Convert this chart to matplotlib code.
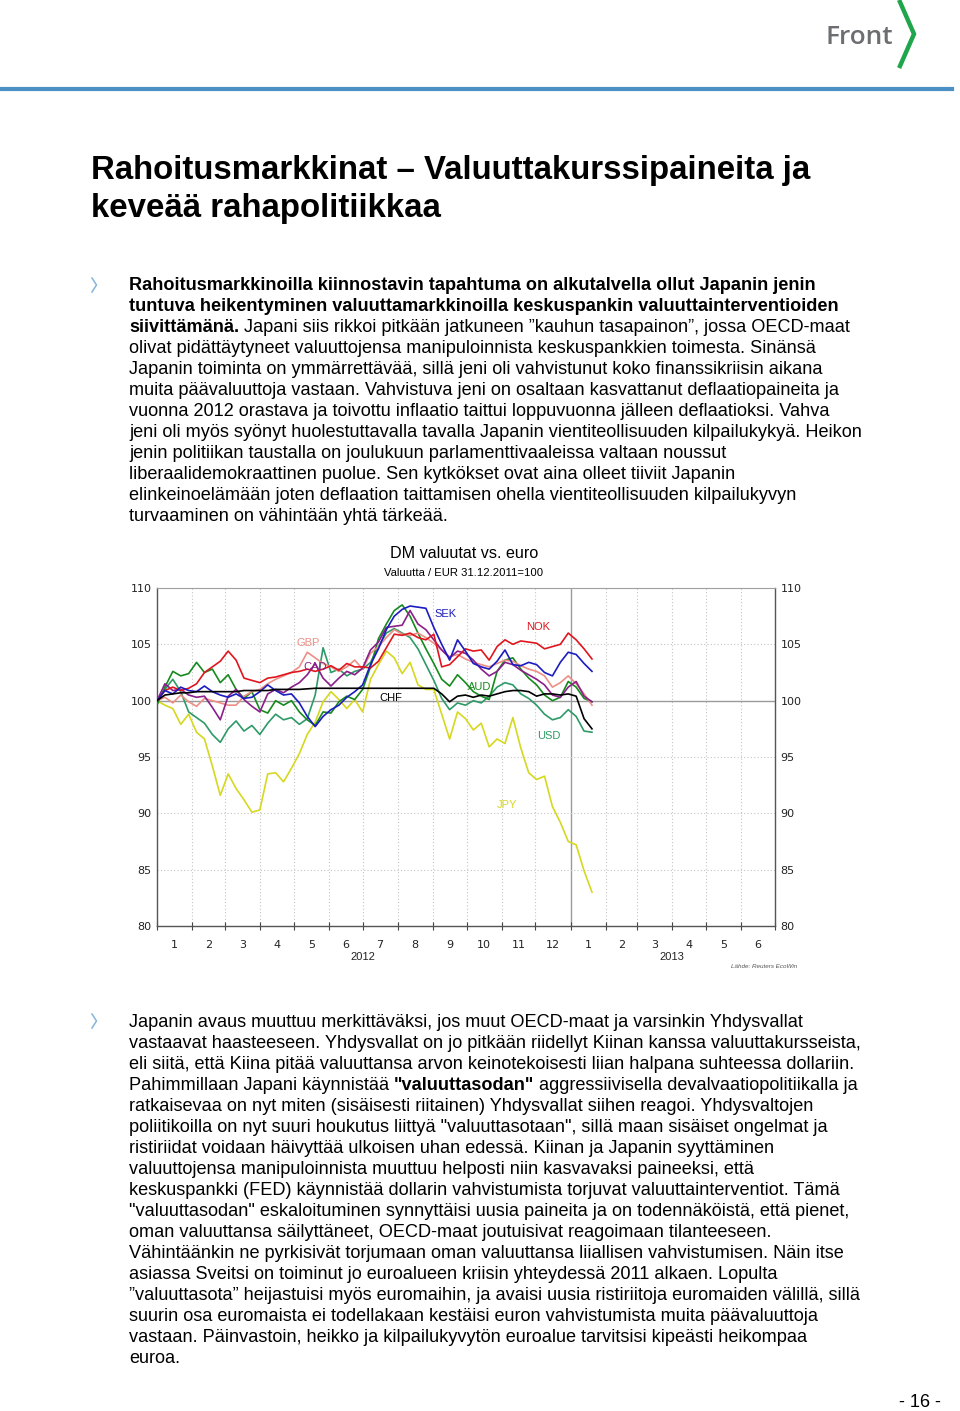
import matplotlib
matplotlib.use("Agg")
import matplotlib.pyplot as plt
import matplotlib.dates as mdates
from matplotlib.lines import Line2D
import pandas as pd

# ---------------- data ----------------
start_date = "2012-01-01"
n_points = 56          # weekly observations
currencies = ["GBP", "CAD", "SEK", "NOK", "CHF", "AUD", "USD", "JPY"]

gbp = [100.0, 100.3, 99.8, 100.5, 99.9, 99.5, 100.2, 100.0, 99.8, 99.6,
       99.6, 100.4, 100.8, 101.0, 101.5, 101.9, 102.2, 102.5, 103.0, 104.3,
       103.8, 103.3, 103.0, 102.6, 103.0, 103.6, 102.8, 104.2, 104.8, 105.6,
       106.3, 105.9, 105.8, 106.0, 105.6, 105.1, 104.5, 103.9, 104.1,
       103.7, 103.4, 103.2, 103.0, 103.3, 103.6, 103.5, 103.1, 102.8, 102.6,
       102.2, 101.2, 101.6, 102.2, 101.5, 100.6, 99.6]
cad = [100.0, 101.5, 100.9, 101.0, 100.5, 100.3, 100.4, 99.4, 98.3, 100.4,
       101.0, 100.1, 99.5, 99.0, 100.6, 101.0, 100.7, 101.2, 101.6, 102.3,
       103.3, 102.0, 101.3, 102.0, 102.6, 102.3, 102.9, 104.5, 105.2, 106.5,
       106.6, 106.7, 108.0, 106.8, 106.3, 105.4, 104.5, 103.8, 104.4,
       104.2, 103.6, 102.8, 102.2, 102.6, 103.4, 103.2, 102.7, 102.3, 101.9,
       101.4, 100.5, 100.3, 101.2, 101.7, 100.4, 99.9]
sek = [100.0, 100.9, 100.6, 101.2, 100.9, 100.8, 101.3, 100.8, 100.5, 100.3,
       100.6, 100.2, 100.3, 100.8, 101.4, 100.9, 100.5, 100.6, 99.8, 98.6,
       97.7, 98.6, 99.2, 99.6, 100.3, 100.8,
       101.4, 103.2, 104.6, 106.3, 107.5, 108.1, 108.4, 108.3, 108.2, 106.5,
       105.0, 103.6, 105.4, 104.4, 103.3,
       103.0, 102.8, 103.5, 104.5, 103.2, 103.1, 103.4, 103.2, 102.5, 102.2,
       103.4, 104.3, 104.1, 103.3, 102.6]
nok = [100.0, 100.9, 101.2, 100.9, 101.1, 101.5, 102.5, 103.0, 103.5, 104.4,
       103.6, 102.0, 101.8, 101.6, 102.0, 102.1, 102.3, 102.5, 102.6, 102.8,
       102.6, 102.8, 103.1, 102.7, 103.3, 103.0,
       103.0, 102.9, 103.5, 104.7, 105.9, 105.8, 106.0, 105.6, 105.4, 105.9,
       103.0, 103.2, 103.9, 104.6, 104.4,
       104.5, 103.6, 104.8, 105.4, 105.0, 105.3, 105.2, 105.1, 104.6, 104.8,
       105.0, 106.0, 105.4, 104.6, 103.7]
chf = [100.0, 100.5, 100.6, 100.7, 100.7, 100.8, 100.8, 100.8, 100.8, 100.8,
       100.8, 100.9, 100.9, 100.9, 100.9, 101.0, 101.0, 101.0, 101.0, 101.05,
       101.1, 101.1, 101.1, 101.1, 101.1, 101.1, 101.1, 101.1, 101.1, 101.1,
       101.1, 101.1, 101.1, 101.1, 101.1, 101.1, 100.6, 99.9, 100.4, 100.5,
       100.3, 100.5, 100.4, 100.6, 100.8, 100.9, 100.9, 100.8, 100.4, 100.6,
       100.6, 100.5, 100.6, 100.4, 98.4, 97.5]
aud = [99.6, 101.2, 102.6, 102.2, 102.4, 103.4, 102.5, 102.8, 101.6, 102.3,
       101.0, 100.2, 100.8, 99.2, 98.9, 100.0, 99.6, 100.0, 99.0, 98.3,
       97.8, 99.0, 98.9, 99.9, 100.4, 100.1,
       101.0, 103.0, 105.5, 106.8, 108.0, 108.5, 107.5, 106.0, 104.6, 103.3,
       101.9, 101.3, 102.3, 101.6, 100.8,
       100.4, 100.1, 102.6, 103.6, 103.8, 102.8, 102.0, 101.4, 100.5, 100.0,
       100.3, 101.7, 101.2, 100.2, 99.9]
usd = [100.0, 101.0, 101.9, 100.8, 99.0, 98.5, 98.0, 97.0, 96.3, 97.5,
       98.2, 97.3, 97.8, 97.0, 98.0, 98.8, 98.3, 98.5, 97.9, 98.4,
       100.5, 104.7, 102.5, 102.8, 102.2, 102.6,
       102.8, 103.4, 104.8, 106.0, 106.4, 106.0, 105.6, 104.6, 103.2, 101.8,
       100.2, 99.2, 99.8, 99.6, 100.0,
       99.8, 100.4, 101.2, 101.6, 101.4, 100.6, 100.2, 99.6, 98.8, 98.3,
       98.5, 99.2, 98.6, 97.3, 97.2]
jpy = [100.0, 99.6, 99.3, 97.9, 98.8, 97.2, 96.6, 94.2, 91.6, 93.5,
       92.2, 91.2, 90.1, 90.3, 93.5, 93.6, 92.8, 94.0, 95.3, 97.0,
       98.1, 99.9, 100.8, 100.1, 99.3, 100.1, 99.0, 101.9, 103.2, 104.4,
       103.8, 102.4, 103.4, 101.4, 101.0, 101.0, 98.8, 96.6, 99.0, 98.4,
       97.4, 98.0, 95.9, 96.6, 96.2, 98.5, 95.8, 93.6, 93.0, 93.3,
       90.6, 89.2, 87.5, 87.2, 84.9, 83.0]

label_dates = ["2012-05-14", "2012-05-20", "2012-09-12", "2012-12-03",
               "2012-07-26", "2012-10-13", "2012-12-13", "2012-11-06"]
label_values = [105.1, 102.95, 107.65, 106.5, 100.27, 101.25, 96.9, 90.75]

month_labels = ["1", "2", "3", "4", "5", "6", "7", "8", "9", "10", "11", "12",
                "1", "2", "3", "4", "5", "6"]
year_labels = ["2012", "2013"]
year_centers = ["2012-07-01", "2013-04-01"]
yticks = [80, 85, 90, 95, 100, 105, 110]

series = [gbp, cad, sek, nok, chf, aud, usd, jpy]
colors = ["#ec8f86", "#8a1f8a", "#1c1cc0", "#e0161e", "#000000",
          "#168a1e", "#2e9a68", "#d6d820"]
draw_order = [7, 6, 5, 0, 1, 3, 2, 4]

# ---------------- page ----------------
W, H = 960, 1411
fig = plt.figure(figsize=(W / 100, H / 100), dpi=100)
fig.patch.set_facecolor("white")
R = fig.canvas.get_renderer()
BODY = "Liberation Sans"


def X(px):
    return px / W


def Y(py):
    return 1 - py / H


def tw(s, size, weight="normal", family=BODY, style="normal"):
    t = fig.text(0, 0, s, fontsize=size, fontweight=weight, family=family,
                 style=style)
    w = t.get_window_extent(R).width
    t.remove()
    return w


def fit(s, target, weight="normal", family=BODY):
    return 12.0 * target / tw(s, 12.0, weight, family)


def runs_line(x, yc, runs, size, color="#000000"):
    for txt, wt in runs:
        fig.text(X(x), Y(yc + 6), txt, fontsize=size, fontweight=wt,
                 family=BODY, color=color, va="baseline", ha="left")
        x += tw(txt + "|", size, wt) - tw("|", size, wt)


# header logo
fs_logo = fit("Front", 68, "semibold", "Open Sans")
fig.text(X(893), Y(37), "Front", fontsize=fs_logo, fontweight="semibold",
         family="Open Sans", color="#6d6e71", ha="right", va="center")
fig.add_artist(Line2D([X(900), X(914), X(900)], [Y(2), Y(34), Y(66)],
                      color="#1fa54b", lw=3.2, transform=fig.transFigure,
                      solid_joinstyle="miter"))
fig.add_artist(Line2D([X(2), X(952)], [Y(89), Y(89)], color="#4a90c4",
                      lw=3.0, transform=fig.transFigure))

# title
fs_title = fit("Rahoitusmarkkinat – Valuuttakurssipaineita ja", 717, "bold")
fig.text(X(91), Y(179), "Rahoitusmarkkinat – Valuuttakurssipaineita ja",
         fontsize=fs_title, fontweight="bold", family=BODY, va="baseline")
fig.text(X(91), Y(217), "keveää rahapolitiikkaa",
         fontsize=fs_title, fontweight="bold", family=BODY, va="baseline")

fs_body = fit("olivat pidättäytyneet valuuttojensa manipuloinnista "
              "keskuspankkien toimesta. Sinänsä", 690)


def bullet(yc):
    fig.add_artist(Line2D([X(92), X(96.5), X(92)], [Y(yc - 7), Y(yc), Y(yc + 7)],
                          color="#86b4dc", lw=1.1, transform=fig.transFigure))


B, N = "bold", "normal"
para1 = [
    [("Rahoitusmarkkinoilla kiinnostavin tapahtuma on alkutalvella ollut Japanin jenin", B)],
    [("tuntuva heikentyminen valuuttamarkkinoilla keskuspankin valuuttainterventioiden", B)],
    [("siivittämänä.", B), (" Japani siis rikkoi pitkään jatkuneen ”kauhun tasapainon”, jossa OECD-maat", N)],
    [("olivat pidättäytyneet valuuttojensa manipuloinnista keskuspankkien toimesta. Sinänsä", N)],
    [("Japanin toiminta on ymmärrettävää, sillä jeni oli vahvistunut koko finanssikriisin aikana", N)],
    [("muita päävaluuttoja vastaan. Vahvistuva jeni on osaltaan kasvattanut deflaatiopaineita ja", N)],
    [("vuonna 2012 orastava ja toivottu inflaatio taittui loppuvuonna jälleen deflaatioksi. Vahva", N)],
    [("jeni oli myös syönyt huolestuttavalla tavalla Japanin vientiteollisuuden kilpailukykyä. Heikon", N)],
    [("jenin politiikan taustalla on joulukuun parlamenttivaaleissa valtaan noussut", N)],
    [("liberaalidemokraattinen puolue. Sen kytkökset ovat aina olleet tiiviit Japanin", N)],
    [("elinkeinoelämään joten deflaation taittamisen ohella vientiteollisuuden kilpailukyvyn", N)],
    [("turvaaminen on vähintään yhtä tärkeää.", N)],
]
para2 = [
    [("Japanin avaus muuttuu merkittäväksi, jos muut OECD-maat ja varsinkin Yhdysvallat", N)],
    [("vastaavat haasteeseen. Yhdysvallat on jo pitkään riidellyt Kiinan kanssa valuuttakursseista,", N)],
    [("eli siitä, että Kiina pitää valuuttansa arvon keinotekoisesti liian halpana suhteessa dollariin.", N)],
    [("Pahimmillaan Japani käynnistää ", N), ("\"valuuttasodan\"", B), (" aggressiivisella devalvaatiopolitiikalla ja", N)],
    [("ratkaisevaa on nyt miten (sisäisesti riitainen) Yhdysvallat siihen reagoi. Yhdysvaltojen", N)],
    [("poliitikoilla on nyt suuri houkutus liittyä \"valuuttasotaan\", sillä maan sisäiset ongelmat ja", N)],
    [("ristiriidat voidaan häivyttää ulkoisen uhan edessä. Kiinan ja Japanin syyttäminen", N)],
    [("valuuttojensa manipuloinnista muuttuu helposti niin kasvavaksi paineeksi, että", N)],
    [("keskuspankki (FED) käynnistää dollarin vahvistumista torjuvat valuuttainterventiot. Tämä", N)],
    [("\"valuuttasodan\" eskaloituminen synnyttäisi uusia paineita ja on todennäköistä, että pienet,", N)],
    [("oman valuuttansa säilyttäneet, OECD-maat joutuisivat reagoimaan tilanteeseen.", N)],
    [("Vähintäänkin ne pyrkisivät torjumaan oman valuuttansa liiallisen vahvistumisen. Näin itse", N)],
    [("asiassa Sveitsi on toiminut jo euroalueen kriisin yhteydessä 2011 alkaen. Lopulta", N)],
    [("”valuuttasota” heijastuisi myös euromaihin, ja avaisi uusia ristiriitoja euromaiden välillä, sillä", N)],
    [("suurin osa euromaista ei todellakaan kestäisi euron vahvistumista muita päävaluuttoja", N)],
    [("vastaan. Päinvastoin, heikko ja kilpailukyvytön euroalue tarvitsisi kipeästi heikompaa", N)],
    [("euroa.", N)],
]

bullet(285)
for i, runs in enumerate(para1):
    runs_line(129, 284 + 21 * i, runs, fs_body)
bullet(1021)
for i, runs in enumerate(para2):
    runs_line(129, 1021 + 21 * i, runs, fs_body)

fig.text(X(941), Y(1407), "- 16 -", fontsize=fs_body, family=BODY,
         ha="right", va="baseline")

# ---------------- chart ----------------
fs_ct = fit("DM valuutat vs. euro", 148)
fig.text(X(464), Y(554), "DM valuutat vs. euro", fontsize=fs_ct, family=BODY,
         ha="center", va="center")
fs_cs = fit("Valuutta / EUR 31.12.2011=100", 157)
fig.text(X(464), Y(573), "Valuutta / EUR 31.12.2011=100", fontsize=fs_cs,
         family=BODY, ha="center", va="center")

ax = fig.add_axes([X(157), Y(926), (775 - 157) / W, (926 - 588) / H])
dates = pd.date_range(start_date, periods=n_points, freq="7D")
xd = mdates.date2num(dates.to_pydatetime())

month_starts = pd.date_range("2012-01-01", "2013-07-01", freq="MS")
ms = mdates.date2num(month_starts.to_pydatetime())
mids = [(ms[i] + ms[i + 1]) / 2 for i in range(len(ms) - 1)]
year_break = mdates.date2num(pd.Timestamp("2013-01-01").to_pydatetime())

for m in ms[1:-1]:
    if abs(m - year_break) < 1:
        ax.axvline(m, color="#9a9a9a", lw=1.0, zorder=1)
    else:
        ax.axvline(m, color="#c4c4c4", lw=0.8, ls=(0, (1, 2)), zorder=1)
for v in yticks[1:-1]:
    if v == 100:
        ax.axhline(v, color="#9a9a9a", lw=1.0, zorder=1)
    else:
        ax.axhline(v, color="#c4c4c4", lw=0.8, ls=(0, (1, 2)), zorder=1)

for i in draw_order:
    ax.plot(xd, series[i], color=colors[i], lw=1.2, zorder=3)

for i, c in enumerate(currencies):
    ld = mdates.date2num(pd.Timestamp(label_dates[i]).to_pydatetime())
    ax.text(ld, label_values[i], c, color=colors[i], fontsize=8, family=BODY,
            ha="center", va="center", zorder=4)

ax.set_xlim(ms[0], ms[-1])
ax.set_ylim(80, 110)
ax.set_yticks(yticks)
ax.set_yticklabels([str(v) for v in yticks])
ax.tick_params(axis="y", length=0, labelsize=8, pad=4, labelleft=True,
               labelright=True, colors="#222222")
ax.set_xticks(ms)
ax.set_xticklabels([""] * len(ms))
ax.set_xticks(mids, minor=True)
ax.set_xticklabels(month_labels, minor=True)
ax.tick_params(axis="x", which="major", length=6, direction="inout",
               color="#444444", width=0.8)
ax.tick_params(axis="x", which="minor", length=0, labelsize=8, pad=10,
               colors="#222222")
for s in ["left", "bottom", "right"]:
    ax.spines[s].set_color("#555555")
    ax.spines[s].set_linewidth(1.0)
ax.spines["top"].set_color("#a0a0a0")

for lab, yc in zip(year_labels, year_centers):
    xc = mdates.date2num(pd.Timestamp(yc).to_pydatetime())
    ax.text(xc, -0.092, lab, transform=ax.get_xaxis_transform(), fontsize=8,
            family=BODY, ha="center", va="center", color="#222222")

fig.text(X(797), Y(966), "Lähde: Reuters EcoWin", fontsize=4.5, family=BODY,
         style="italic", color="#555555", ha="right", va="center")

fig.savefig("out.png", dpi=100, facecolor="white")
